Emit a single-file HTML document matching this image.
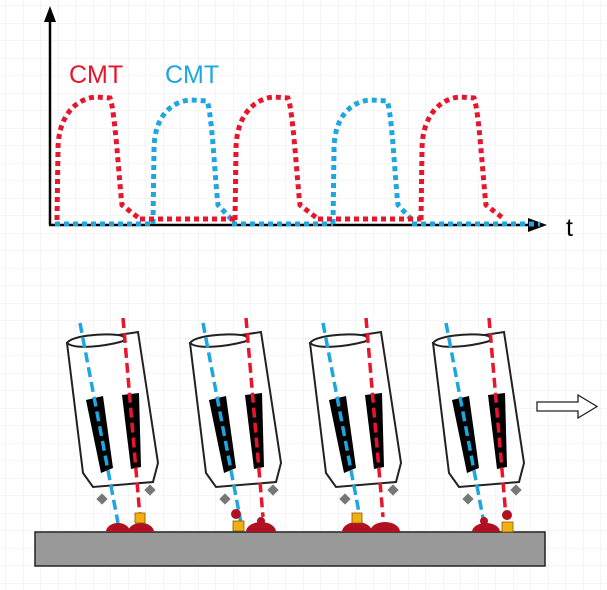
<!DOCTYPE html>
<html><head><style>
html,body{margin:0;padding:0;background:#fff;}
svg{display:block;}
</style></head><body>
<svg width="607" height="590" viewBox="0 0 607 590" xmlns="http://www.w3.org/2000/svg">
<defs>
<pattern id="g" width="17.5" height="17.5" patternUnits="userSpaceOnUse" x="6" y="6">
<path d="M17.5 0V17.5H0" fill="none" stroke="#ececec" stroke-width="1"/>
</pattern>
<g id="torch">
<path d="M67,343 L138,332 L158,463 L153,482 L93,487 L83,473 Z" fill="#fff" stroke="#222" stroke-width="2"/>
<path d="M67,343 C72,336 100,333 118,335 C125,336 128,340 120,342 C105,346 75,350 67,343 Z" fill="#fff" stroke="#222" stroke-width="2"/>
<polygon points="86,400 103,396 113,468 101,473" fill="#000"/>
<polygon points="122,395 139,393 141,467 131,469" fill="#000"/>
<line x1="80" y1="323" x2="118" y2="523" stroke="#1ea6e0" stroke-width="3.5" stroke-dasharray="10 5"/>
<line x1="123" y1="318" x2="140" y2="517" stroke="#e8162d" stroke-width="3.5" stroke-dasharray="10 5"/>
<rect x="98" y="495" width="8" height="8" fill="#777" transform="rotate(45 102 499)"/>
<rect x="146" y="486" width="8" height="8" fill="#777" transform="rotate(45 150 490)"/>
</g>
</defs>
<rect width="607" height="590" fill="url(#g)"/>
<line x1="50" y1="18" x2="50" y2="225" stroke="#000" stroke-width="2.5"/>
<polygon points="44,22 50,6 56,22" fill="#000"/>
<line x1="49" y1="225" x2="535" y2="225" stroke="#000" stroke-width="2.5"/>
<polygon points="528,218 547,225 528,232" fill="#000"/>
<text x="566" y="236" font-family="Liberation Sans, sans-serif" font-size="25" fill="#000">t</text>
<text x="69" y="83" font-family="Liberation Sans, sans-serif" font-size="25" fill="#e8162d">CMT</text>
<text x="165" y="83" font-family="Liberation Sans, sans-serif" font-size="25" fill="#1ea6e0">CMT</text>
<g fill="none" stroke-width="5" stroke-dasharray="5 4">
<g stroke="#1ea6e0">
<path d="M55,224 L153,224 M232,224 L333,224 M412,224 L540,224"/>
<path d="M153,224 L154,150 C154,112 176,100 192,100 L207,101 C212,112 215,180 218,205 L232,220"/>
<path d="M333,224 L334,150 C334,112 356,100 372,100 L387,101 C392,112 395,180 398,205 L412,220"/>
</g>
<g stroke="#e8162d">
<path d="M140,219 L235,219 M318,219 L421,219"/>
<path d="M57,220 L58,150 C58,110 82,97 97,97 L110,98 C115,110 119,180 122,205 L140,219"/>
<path d="M235,220 L236,150 C236,110 260,97 275,97 L288,98 C293,110 297,180 300,205 L318,219"/>
<path d="M421,220 L422,150 C422,110 446,97 461,97 L474,98 C479,110 483,180 486,205 L504,219"/>
</g>
</g>
<rect x="35" y="532" width="510" height="34" fill="#999" stroke="#222" stroke-width="1.5"/>
<use href="#torch"/>
<use href="#torch" x="123"/>
<use href="#torch" x="243"/>
<use href="#torch" x="366"/>
<g fill="#b01020">
<path d="M106,532 A12,9 0 0 1 130,532 Z"/>
<path d="M128,532 A13,9 0 0 1 154,532 Z"/>
<circle cx="236" cy="514" r="5"/>
<path d="M246,532 A15,10 0 0 1 276,532 Z"/>
<circle cx="261" cy="521" r="4"/>
<path d="M342,532 A15,10 0 0 1 372,532 Z"/>
<path d="M370,532 A15,10 0 0 1 400,532 Z"/>
<path d="M472,532 A14,9 0 0 1 500,532 Z"/>
<circle cx="484" cy="521" r="4"/>
<circle cx="507" cy="515" r="5"/>
</g>
<g fill="#f2b010" stroke="#8a5a00" stroke-width="0.8">
<rect x="135" y="513" width="10" height="10"/>
<rect x="233" y="521" width="11" height="10"/>
<rect x="352" y="513" width="10" height="10"/>
<rect x="502" y="522" width="11" height="10"/>
</g>
<polygon points="537,402 578,402 578,395 597,406.5 578,418 578,411 537,411" fill="#fff" stroke="#222" stroke-width="1.3"/>
</svg>
</body></html>
